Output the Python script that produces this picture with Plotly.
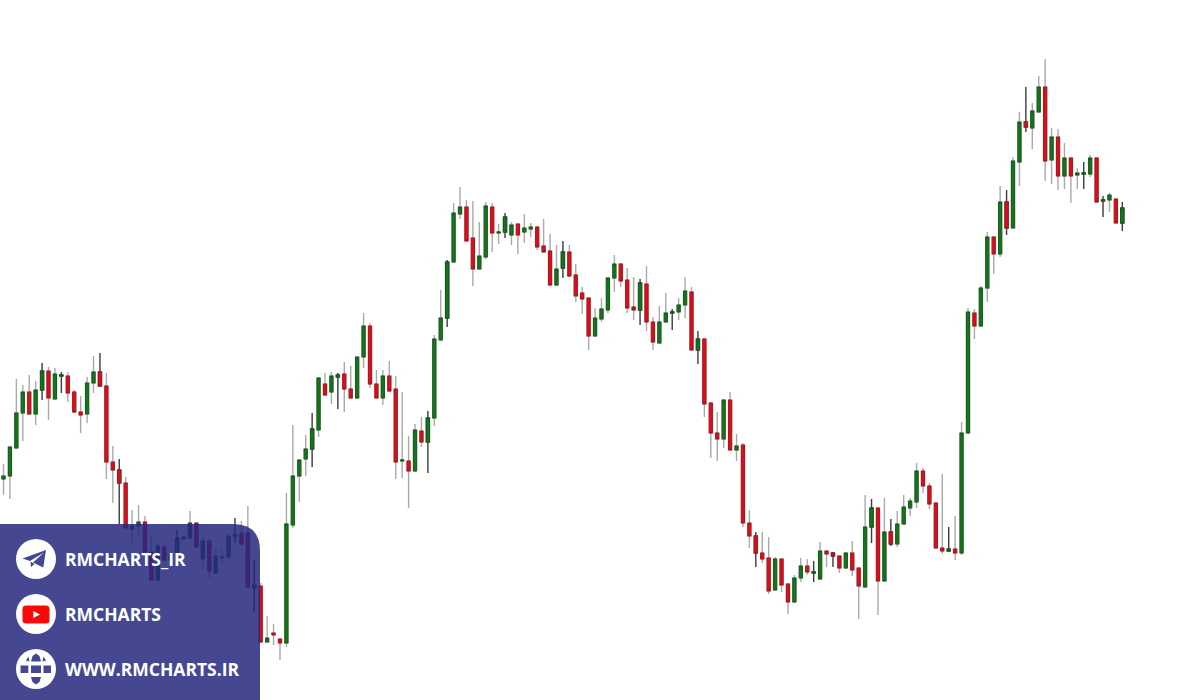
import plotly.graph_objects as go

# Price scale runs 0-700 over the chart height; candle index is the x value.
OPEN = [
 221,224,252,287,308,286,310,329,301,324,
 324,308,288,286,317,328,314,238,230,217,
 171,174,178,148,120,153,140,148,161,162,
 177,141,159,127,142,143,164,167,167,112,
 114,58,67,61,57,175,224,241,251,270,
 316,308,323,326,311,302,343,374,316,302,
 324,311,239,239,229,269,258,282,360,382,
 438,486,493,462,431,443,493,467,468,465,
 476,468,471,473,454,449,415,432,448,425,
 407,402,364,381,390,422,436,420,393,390,
 416,378,357,378,387,388,395,408,350,361,
 297,267,261,300,250,255,177,164,147,142,
 110,141,116,98,122,134,127,121,149,147,
 144,132,147,132,113,173,192,119,168,156,
 176,192,198,229,214,197,152,149,151,147,
 267,387,374,412,463,446,498,472,538,578,
 572,588,613,540,563,524,542,525,526,526,
 542,499,500,501,477,
]
CLOSE = [
 224,253,287,308,286,310,329,302,326,325,
 307,288,285,317,328,314,238,230,217,172,
 174,178,148,120,154,140,145,162,163,177,
 153,159,129,144,143,164,165,156,113,115,
 58,62,65,57,176,224,240,251,271,322,
 305,324,325,311,302,343,374,316,302,324,
 309,238,240,229,270,258,282,361,382,438,
 487,493,459,431,444,494,467,468,483,475,
 465,472,473,453,448,415,431,448,424,404,
 401,364,382,391,422,436,419,392,390,417,
 378,358,378,387,388,395,409,350,361,296,
 267,261,300,250,254,177,164,147,141,109,
 141,115,98,122,134,128,128,149,146,144,
 132,147,130,114,173,192,119,168,156,176,
 193,199,229,214,196,152,149,151,147,267,
 388,374,412,463,446,498,472,539,578,573,
 589,613,539,563,524,542,524,527,527,542,
 498,500,505,477,492,
]
HIGH = [
 236,253,321,315,325,319,337,333,332,328,
 328,310,304,323,344,347,327,254,241,223,
 190,195,184,163,158,155,147,170,163,189,
 177,163,162,152,152,167,182,179,194,140,
 117,84,76,61,207,275,240,265,287,322,
 327,328,327,338,334,343,387,377,330,330,
 339,324,308,264,276,283,289,365,410,440,
 497,513,500,499,478,498,497,476,487,478,
 477,486,477,473,481,466,455,459,455,436,
 413,402,392,402,423,445,436,432,423,421,
 434,383,394,407,391,402,423,413,369,361,
 298,288,300,308,266,257,190,168,168,163,
 143,141,117,125,142,141,139,158,149,148,
 144,148,159,132,205,201,192,202,181,189,
 205,202,237,232,217,197,226,173,184,278,
 392,391,414,468,463,514,510,543,588,613,
 597,624,641,572,571,557,542,532,538,545,
 542,504,507,501,498,
]
LOW = [
 205,201,252,259,285,275,300,280,301,307,
 298,287,267,277,307,314,221,197,176,170,
 155,164,148,120,118,138,138,145,160,162,
 152,130,122,126,137,138,157,155,113,88,
 58,58,55,40,53,172,198,224,233,263,
 304,296,291,288,302,302,332,312,301,295,
 308,221,222,192,229,253,227,274,360,373,
 438,481,459,414,431,441,448,456,462,455,
 446,457,463,450,448,415,414,422,423,398,
 386,350,364,378,387,408,413,387,380,375,
 369,350,356,378,370,380,382,350,336,283,
 242,239,252,249,239,173,152,133,137,106,
 110,108,86,98,118,125,118,121,133,133,
 127,132,124,81,113,157,85,119,154,153,
 176,184,192,207,191,152,146,148,140,145,
 267,361,373,398,426,443,465,472,514,568,
 551,588,519,516,510,511,497,511,511,523,
 498,483,488,477,469,
]
DARK_WICKS = [6,9,15,18,27,36,39,48,52,66,69,78,87,99,104,108,117,126,129,135,138,147,156,159,168,171,174]
PANEL_LINES = ["RMCHARTS_IR", "RMCHARTS", "WWW.RMCHARTS.IR"]

GREEN, RED = "#16751c", "#d9101c"
PANEL = "#45478f"
W, H = 1200, 700
STEP = 6.43
idx = list(range(len(OPEN)))


def subset(values, keep):
    return [values[i] for i in keep]


def wick_trace(keep, color):
    return go.Candlestick(
        x=keep, open=subset(OPEN, keep), high=subset(HIGH, keep),
        low=subset(LOW, keep), close=subset(CLOSE, keep), whiskerwidth=0,
        increasing=dict(line=dict(color=color, width=1.4), fillcolor=color),
        decreasing=dict(line=dict(color=color, width=1.4), fillcolor=color),
        showlegend=False, hoverinfo="skip",
    )


dark = [i for i in idx if i in DARK_WICKS]
light = [i for i in idx if i not in DARK_WICKS]

fig = go.Figure()
fig.add_trace(wick_trace(light, "#a9a9a9"))
fig.add_trace(wick_trace(dark, "#3c3c3c"))
# Bodies drawn over the wicks, same open/close
fig.add_trace(go.Candlestick(
    x=idx, open=OPEN, close=CLOSE,
    high=[max(o, c) for o, c in zip(OPEN, CLOSE)],
    low=[min(o, c) for o, c in zip(OPEN, CLOSE)],
    whiskerwidth=0,
    increasing=dict(line=dict(color="#125f18", width=1), fillcolor=GREEN),
    decreasing=dict(line=dict(color="#b3121a", width=1), fillcolor=RED),
    showlegend=False,
))


def fx(x):
    return x / W


def fy(y):
    return 1 - y / H


def poly(points, close=True):
    d = "M " + " L ".join(f"{fx(x):.5f} {fy(y):.5f}" for x, y in points)
    return d + (" Z" if close else "")


def base_shape(**kw):
    return dict(xref="paper", yref="paper", layer="above", line=dict(width=0), **kw)


def disc(cx, cy, r, color):
    return base_shape(type="circle", x0=fx(cx - r), x1=fx(cx + r),
                      y0=fy(cy + r), y1=fy(cy - r), fillcolor=color)


def rect(x0, y0, x1, y1, color):
    return base_shape(type="rect", x0=fx(x0), x1=fx(x1), y0=fy(y1), y1=fy(y0), fillcolor=color)


shapes = []
# panel with rounded top-right corner
shapes.append(base_shape(
    type="path",
    path=(f"M 0 {fy(524):.5f} L {fx(233):.5f} {fy(524):.5f} "
          f"Q {fx(260):.5f} {fy(524):.5f} {fx(260):.5f} {fy(551):.5f} "
          f"L {fx(260):.5f} 0 L 0 0 Z"),
    fillcolor="rgba(37,40,126,0.85)"))
# telegram
shapes.append(disc(36, 559, 20, "white"))
shapes.append(base_shape(type="path", fillcolor=PANEL, path=poly(
    [(46, 550), (22.5, 558.5), (30, 561), (44, 552.5), (33, 562.5), (43.3, 567.5)])))
shapes.append(base_shape(type="path", fillcolor=PANEL, path=poly(
    [(30.5, 561.5), (31, 567), (34.5, 564)])))
# youtube
shapes.append(disc(36, 614, 20, "white"))
shapes.append(base_shape(
    type="path", fillcolor="#f90a0a",
    path=(f"M {fx(26):.5f} {fy(605.5):.5f} L {fx(46):.5f} {fy(605.5):.5f} "
          f"Q {fx(49.5):.5f} {fy(605.5):.5f} {fx(49.5):.5f} {fy(609):.5f} "
          f"L {fx(49.5):.5f} {fy(620):.5f} "
          f"Q {fx(49.5):.5f} {fy(623.5):.5f} {fx(46):.5f} {fy(623.5):.5f} "
          f"L {fx(26):.5f} {fy(623.5):.5f} "
          f"Q {fx(22.5):.5f} {fy(623.5):.5f} {fx(22.5):.5f} {fy(620):.5f} "
          f"L {fx(22.5):.5f} {fy(609):.5f} "
          f"Q {fx(22.5):.5f} {fy(605.5):.5f} {fx(26):.5f} {fy(605.5):.5f} Z")))
shapes.append(base_shape(type="path", fillcolor="white", path=poly(
    [(33.3, 611), (33.3, 618), (40, 614.5)])))
# globe
shapes.append(disc(36, 669, 20, "white"))
shapes.append(rect(20.5, 665.5, 28.3, 673, PANEL))
shapes.append(rect(31, 665.5, 41, 673, PANEL))
shapes.append(rect(43.5, 665.5, 51, 673, PANEL))
shapes.append(base_shape(type="path", fillcolor=PANEL, path=poly(
    [(36, 653.5), (39.5, 656), (41, 661.5), (31, 661.5), (32.5, 656)])))
shapes.append(base_shape(type="path", fillcolor=PANEL, path=poly(
    [(36, 684.5), (39.5, 682), (41, 677), (31, 677), (32.5, 682)])))
shapes.append(base_shape(type="path", fillcolor=PANEL, path=poly(
    [(26, 660.5), (28.5, 656.5), (29.5, 661.5)])))
shapes.append(base_shape(type="path", fillcolor=PANEL, path=poly(
    [(46, 660.5), (43.5, 656.5), (42.5, 661.5)])))

annotations = [
    dict(text=t, x=fx(63), y=fy(cy), xref="paper", yref="paper", xanchor="left",
         yanchor="middle", showarrow=False,
         font=dict(family="Open Sans", size=17.5, color="white", weight="bold"))
    for t, cy in zip(PANEL_LINES, (559, 614, 669))
]

fig.update_layout(
    width=W, height=H, margin=dict(l=0, r=0, t=0, b=0),
    paper_bgcolor="white", plot_bgcolor="white",
    boxgap=0.3, showlegend=False,
    shapes=shapes, annotations=annotations,
    xaxis=dict(range=[-3.5 / STEP, (W - 3.5) / STEP], visible=False, rangeslider=dict(visible=False)),
    yaxis=dict(range=[0, H], visible=False),
)
fig.write_html("out.html", config=dict(displayModeBar=False),
               post_script="document.body.style.margin='0';document.body.style.overflow='hidden';")
